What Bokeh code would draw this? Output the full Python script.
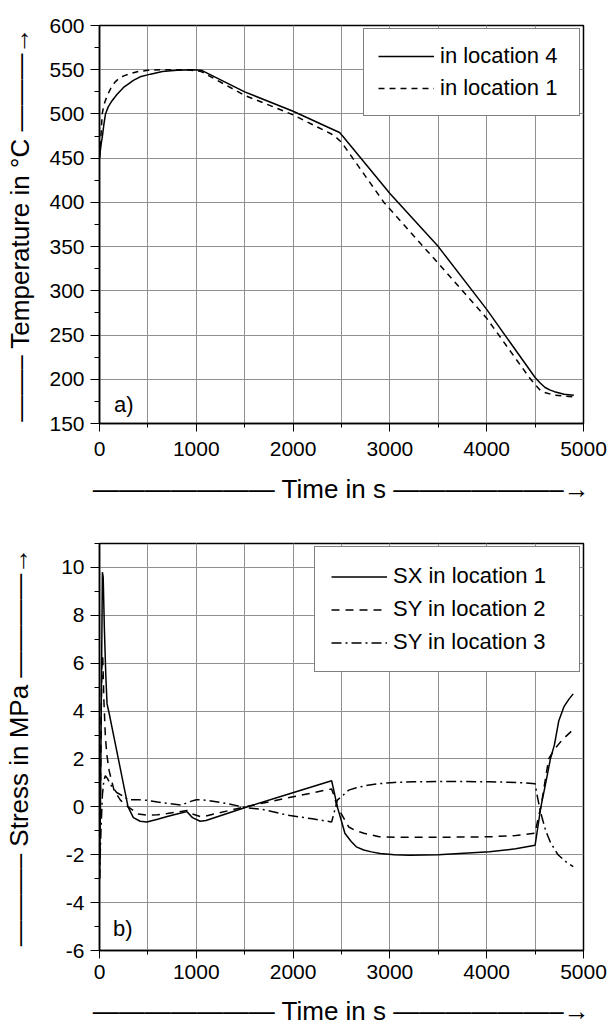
from bokeh.plotting import figure
from bokeh.layouts import column
from bokeh.models import SingleIntervalTicker, Range1d, Label, PrintfTickFormatter
from bokeh.embed import file_html
from bokeh.resources import INLINE

# ---------------- data: panel a) temperature ----------------
t_loc4 = [0, 10, 20, 30, 45, 62, 90, 130, 180, 248, 300, 350, 420, 527, 650, 800, 950, 1050,
          1500, 2000, 2400, 2480, 2520, 3000, 3500, 4000, 4500, 4550, 4600, 4650, 4700, 4800, 4900]
T_loc4 = [450, 460, 468, 475, 488, 500, 508, 515, 522, 530, 534, 538, 542, 545, 548, 549.5, 550, 549.5,
          525, 503, 483, 479, 474, 410, 350, 279, 202, 196, 191, 188, 186, 183, 182]

t_loc1 = [0, 8, 15, 28, 45, 60, 90, 121, 160, 200, 250, 300, 400, 500, 650, 900, 1050,
          1500, 2000, 2400, 2450, 2500, 2938, 3500, 4000, 4440, 4500, 4550, 4600, 4700, 4800, 4900]
T_loc1 = [450, 465, 475, 500, 510, 515, 523, 530, 536, 540, 543, 545, 548, 549.3, 550, 550, 548,
          521, 499, 477, 473, 468, 400, 331, 269, 202, 194, 188, 185, 182, 181, 180]

# ---------------- data: panel b) stress ----------------
t_sx1 = [0, 12, 22, 30, 38, 50, 65, 78, 100, 150, 200, 250, 295, 350, 420, 490, 600, 700, 800, 904,
         960, 1040, 1100, 1513, 2005, 2398, 2420, 2457, 2500, 2535, 2600, 2653, 2730, 2810, 2900,
         3046, 3204, 3500, 4029, 4300, 4500, 4530, 4560, 4610, 4658, 4700, 4745, 4800, 4850, 4894]
s_sx1 = [-3.0, 1.0, 6.0, 9.8, 9.6, 7.5, 5.5, 4.3, 3.9, 2.9, 1.9, 0.9, 0.0, -0.45, -0.6, -0.63, -0.52,
         -0.4, -0.3, -0.2, -0.45, -0.6, -0.57, -0.02, 0.6, 1.09, 0.7, 0.0, -0.6, -1.1, -1.45, -1.67,
         -1.8, -1.88, -1.95, -2.0, -2.02, -2.0, -1.88, -1.75, -1.6, -0.8, 0.0, 1.0, 2.0, 2.6, 3.6,
         4.2, 4.5, 4.72]

t_sy2 = [0, 10, 18, 26, 34, 45, 60, 75, 100, 150, 216, 295, 400, 490, 600, 700, 800, 904, 960, 1040,
         1100, 1500, 2000, 2398, 2420, 2457, 2520, 2575, 2650, 2732, 2889, 3100, 3500, 4029, 4300,
         4500, 4530, 4560, 4600, 4640, 4700, 4780, 4886]
s_sy2 = [-3.0, 0.5, 4.0, 6.3, 6.2, 4.5, 3.0, 2.2, 1.5, 0.7, 0.28, 0.0, -0.3, -0.35, -0.33, -0.28,
         -0.22, -0.15, -0.3, -0.4, -0.38, 0.0, 0.42, 0.75, 0.5, 0.0, -0.45, -0.84, -1.0, -1.1, -1.25,
         -1.27, -1.27, -1.25, -1.2, -1.1, -0.5, 0.0, 1.0, 2.0, 2.4, 2.8, 3.2]

t_sy3 = [0, 15, 30, 45, 60, 80, 120, 177, 255, 295, 400, 500, 600, 700, 845, 920, 1000, 1100, 1300,
         1513, 1700, 1946, 2200, 2398, 2420, 2457, 2520, 2575, 2653, 2771, 2889, 3046, 3243, 3600,
         4029, 4300, 4500, 4520, 4545, 4575, 4610, 4660, 4737, 4820, 4894]
s_sy3 = [-3.0, -1.0, 0.5, 1.1, 1.3, 1.2, 0.9, 0.6, 0.42, 0.3, 0.3, 0.27, 0.2, 0.15, 0.07, 0.2, 0.3,
         0.28, 0.15, -0.03, -0.12, -0.35, -0.5, -0.63, -0.3, 0.28, 0.5, 0.7, 0.8, 0.9, 0.97, 1.02,
         1.05, 1.06, 1.05, 1.02, 0.97, 0.5, 0.0, -0.5, -1.0, -1.5, -2.0, -2.3, -2.5]

x_ticks_interval = 1000
FONT = "Liberation Sans"
GRID = "#909090"
X_TITLE = "——————— Time in s ——————–→"


def style(p, y_interval):
    p.background_fill_color = "white"
    p.border_fill_color = "white"
    p.outline_line_color = "black"
    p.outline_line_width = 1.5
    p.xaxis.ticker = SingleIntervalTicker(interval=x_ticks_interval, num_minor_ticks=2)
    p.yaxis.ticker = SingleIntervalTicker(interval=y_interval, num_minor_ticks=2)
    p.yaxis.formatter = PrintfTickFormatter(format="%d")
    for ax in (p.xaxis, p.yaxis):
        ax.axis_line_color = "black"
        ax.axis_line_width = 1.5
        ax.major_tick_line_color = "black"
        ax.minor_tick_line_color = "black"
        ax.major_tick_in = 0
        ax.minor_tick_in = 0
        ax.major_label_text_font = FONT
        ax.major_label_text_font_size = "21px"
        ax.major_label_text_color = "black"
        ax.axis_label_text_font = FONT
        ax.axis_label_text_font_size = "26px"
        ax.axis_label_text_font_style = "normal"
        ax.axis_label_text_color = "black"
    p.xaxis.major_tick_out = 8
    p.xaxis.minor_tick_out = 4
    p.yaxis.major_tick_out = 9
    p.yaxis.minor_tick_out = 5
    p.yaxis.major_label_standoff = 6
    p.xgrid.grid_line_color = GRID
    p.xgrid.minor_grid_line_color = GRID
    p.ygrid.grid_line_color = GRID
    p.xgrid.grid_line_width = 1
    p.ygrid.grid_line_width = 1


# ---------------- panel a) ----------------
p1 = figure(width=611, height=512, output_backend="svg", toolbar_location=None,
            x_range=Range1d(0, 5000), y_range=Range1d(150, 600),
            min_border_left=99, min_border_right=28, min_border_top=25, min_border_bottom=89)
style(p1, 50)
p1.xaxis.axis_label = X_TITLE
p1.yaxis.axis_label = "——– Temperature in °C ———→"
p1.xaxis.major_label_standoff = 10
p1.xaxis.axis_label_standoff = 15
p1.yaxis.axis_label_standoff = 11

p1.line(t_loc4, T_loc4, line_color="black", line_width=1.5, legend_label="in location 4")
p1.line(t_loc1, T_loc1, line_color="black", line_width=1.5, line_dash="6 5",
        legend_label="in location 1")
p1.add_layout(Label(x=150, y=172, text="a)", text_font=FONT, text_font_size="22px",
                    text_baseline="middle", text_align="left", text_color="black"))

# ---------------- panel b) ----------------
p2 = figure(width=611, height=516, output_backend="svg", toolbar_location=None,
            x_range=Range1d(0, 5000), y_range=Range1d(-6, 11),
            min_border_left=88, min_border_right=28, min_border_top=31, min_border_bottom=78)
style(p2, 2)
p2.xaxis.axis_label = X_TITLE
p2.yaxis.axis_label = "———– Stress in MPa ————→"
p2.xaxis.major_label_standoff = 6
p2.xaxis.axis_label_standoff = 14
p2.yaxis.axis_label_standoff = 24

p2.line(t_sx1, s_sx1, line_color="black", line_width=1.5, legend_label="SX in location 1")
p2.line(t_sy2, s_sy2, line_color="black", line_width=1.5, line_dash="8 6",
        legend_label="SY in location 2")
p2.line(t_sy3, s_sy3, line_color="black", line_width=1.5, line_dash="10 4 2 4",
        legend_label="SY in location 3")
p2.add_layout(Label(x=140, y=-5.1, text="b)", text_font=FONT, text_font_size="22px",
                    text_baseline="middle", text_align="left", text_color="black"))

for p, gh, sp, pad, lw in ((p1, 24, 6, 14, 125), (p2, 25, 7, 16, 170)):
    lg = p.legend[0]
    lg.location = "top_right"
    lg.margin = 3
    lg.padding = pad
    lg.spacing = sp
    lg.glyph_width = 56
    lg.glyph_height = gh
    lg.label_standoff = 6
    lg.label_width = lw
    lg.label_text_font = FONT
    lg.label_text_font_size = "22px"
    lg.label_text_color = "black"
    lg.border_line_color = "black"
    lg.border_line_width = 1.5
    lg.background_fill_alpha = 1.0

layout = column(p1, p2)
open("out.html", "w").write(file_html(layout, INLINE))
